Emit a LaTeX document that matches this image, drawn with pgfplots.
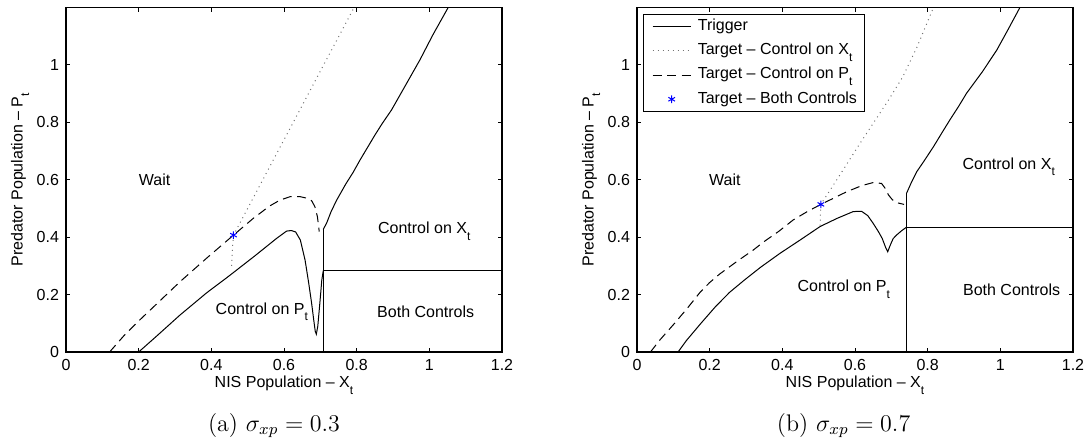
\documentclass[border=0pt]{standalone}
\usepackage{fontspec}
\newfontfamily\arial{Liberation Sans}
\usepackage{pgfplots}
\pgfplotsset{compat=1.18}
\newcommand\sub[1]{\raisebox{-3.2pt}{\fontsize{6}{7}\selectfont #1}}
\tikzset{lbl/.style={font=\arial\fontsize{8}{9.6}\selectfont, anchor=base, inner sep=0pt}}
\begin{document}
\begin{tikzpicture}
\useasboundingbox (0,0) rectangle (543pt,220pt);
\pgfplotsset{
  panel/.style={
    scale only axis, width=218pt, height=172.3pt,
    xmin=0, xmax=1.2, ymin=0, ymax=1.2,
    xtick={0,0.2,0.4,0.6,0.8,1,1.2}, ytick={0,0.2,0.4,0.6,0.8,1},
    tick align=inside, major tick length=2.2pt,
    tick style={black, line width=0.5pt},
    axis line style={line width=0.6pt},
    /pgf/number format/assume math mode=true,
    ticklabel style={font=\arial\fontsize{8}{9.6}\selectfont},
    label style={font=\arial\fontsize{8}{9.6}\selectfont},
    xlabel={NIS Population – X\sub{t}},
    ylabel={Predator Population – P\sub{t}},
    xlabel style={at={(axis description cs:0.5,-0.104)}, anchor=base},
    ylabel style={at={(axis description cs:-0.0995,0.5)}, anchor=base},
    legend image code/.code={\path (-3.7pt,0pt);
      \draw[mark repeat=2,mark phase=2,##1] plot coordinates {(0pt,0pt) (9.5pt,0pt) (19pt,0pt)};},
  },
  trig/.style={black, line width=0.5pt, mark=none},
  tgx/.style={black!55, line width=0.5pt, dash pattern=on 0.5pt off 2pt, mark=none},
  tgp/.style={black, line width=0.5pt, dash pattern=on 4.5pt off 2.75pt, mark=none},
  tgb/.style={blue, only marks, mark=asterisk, mark size=1.9pt, line width=0.5pt},
}
% ---------------- (a) ----------------
\begin{axis}[panel, at={(33pt,44pt)}, anchor=south west]
\addplot[trig] coordinates {(0.2,0) (0.25,0.056) (0.314,0.129) (0.37,0.188) (0.386,0.205) (0.45,0.266) (0.52,0.335) (0.58,0.396) (0.607,0.421) (0.62,0.423) (0.632,0.418) (0.645,0.39) (0.658,0.32) (0.668,0.24) (0.676,0.17) (0.682,0.11) (0.686,0.072) (0.689,0.062) (0.693,0.09) (0.699,0.175) (0.704,0.25) (0.708,0.283)};
\addplot[trig] coordinates {(0.708,0.427) (0.717,0.448) (0.73,0.49) (0.745,0.529) (0.77,0.585) (0.79,0.625) (0.809,0.668) (0.85,0.755) (0.87,0.795) (0.896,0.843) (0.935,0.93) (0.974,1.017) (1.01,1.105) (1.052,1.2)};
\addplot[trig] coordinates {(0.708,0) (0.708,0.427)};
\addplot[trig] coordinates {(0.708,0.283) (1.2,0.283)};
\addplot[tgx] coordinates {(0.456,0.30) (0.458,0.36) (0.461,0.407) (0.793,1.2)};
\addplot[tgp] coordinates {(0.12,0) (0.161,0.059) (0.2,0.108) (0.26,0.18) (0.314,0.245) (0.39,0.33) (0.461,0.407) (0.516,0.466) (0.56,0.508) (0.589,0.529) (0.617,0.541) (0.644,0.541) (0.665,0.535) (0.676,0.527) (0.685,0.506) (0.692,0.471) (0.697,0.419)};
\addplot[tgb] coordinates {(0.461,0.407)};
\node[lbl] at (axis cs:0.244,0.579) {Wait};
\node[lbl] at (axis cs:0.539,0.132) {Control on P\sub{t}};
\node[lbl] at (axis cs:0.986,0.411) {Control on X\sub{t}};
\node[lbl] at (axis cs:0.99,0.12) {Both Controls};
\end{axis}
% ---------------- (b) ----------------
\begin{axis}[panel, at={(318.5pt,44pt)}, anchor=south west,
  legend style={at={(rel axis cs:0.0138,0.981)}, anchor=north west, draw=black, line width=0.6pt, fill=white,
    inner xsep=0.6pt, inner ysep=0pt, row sep=0pt, column sep=0pt,
    font=\arial\fontsize{8}{9.6}\selectfont,
    nodes={inner xsep=3.3pt, inner ysep=2pt, text height=6pt, text depth=2.1pt}},
  legend cell align=left]
\addplot[trig] coordinates {(0.113,0) (0.136,0.04) (0.176,0.1) (0.216,0.158) (0.255,0.208) (0.296,0.251) (0.34,0.295) (0.394,0.344) (0.449,0.39) (0.504,0.437) (0.55,0.465) (0.595,0.489) (0.618,0.49) (0.635,0.475) (0.65,0.448) (0.665,0.418) (0.675,0.395) (0.684,0.365) (0.690,0.349) (0.697,0.372) (0.705,0.395) (0.715,0.408) (0.728,0.422) (0.742,0.435)};
\addlegendentry{Trigger}
\addplot[tgx] coordinates {(0.504,0.44) (0.505,0.48) (0.506,0.514) (0.55,0.60) (0.614,0.727) (0.692,0.877) (0.73,0.955) (0.77,1.06) (0.816,1.2)};
\addlegendentry{Target – Control on X\sub{t}}
\addplot[tgp] coordinates {(0.037,0) (0.063,0.042) (0.10,0.095) (0.137,0.15) (0.173,0.207) (0.2,0.242) (0.228,0.272) (0.28,0.32) (0.32,0.355) (0.348,0.383) (0.39,0.42) (0.43,0.46) (0.47,0.49) (0.506,0.514) (0.54,0.535) (0.577,0.558) (0.62,0.58) (0.65,0.59) (0.673,0.587) (0.683,0.57) (0.692,0.547) (0.703,0.53) (0.715,0.52) (0.735,0.514)};
\addlegendentry{Target – Control on P\sub{t}}
\addplot[tgb] coordinates {(0.506,0.514)};
\addlegendentry{Target – Both Controls}
\addplot[trig, forget plot] coordinates {(0.742,0.553) (0.755,0.59) (0.77,0.628) (0.79,0.665) (0.816,0.715) (0.84,0.765) (0.862,0.81) (0.885,0.855) (0.907,0.901) (0.95,0.975) (0.99,1.051) (1.02,1.12) (1.054,1.2)};
\addplot[trig, forget plot] coordinates {(0.742,0) (0.742,0.553)};
\addplot[trig, forget plot] coordinates {(0.742,0.435) (1.2,0.435)};
\node[lbl] at (axis cs:0.242,0.579) {Wait};
\node[lbl] at (axis cs:0.569,0.21) {Control on P\sub{t}};
\node[lbl] at (axis cs:1.023,0.637) {Control on X\sub{t}};
\node[lbl] at (axis cs:1.031,0.196) {Both Controls};
\end{axis}
\node[anchor=base, font=\fontsize{12}{14}\selectfont] at (137pt,4.5pt) {(a) $\sigma_{xp}=0.3$};
\node[anchor=base, font=\fontsize{12}{14}\selectfont] at (421.8pt,4.5pt) {(b) $\sigma_{xp}=0.7$};
\end{tikzpicture}
\end{document}
